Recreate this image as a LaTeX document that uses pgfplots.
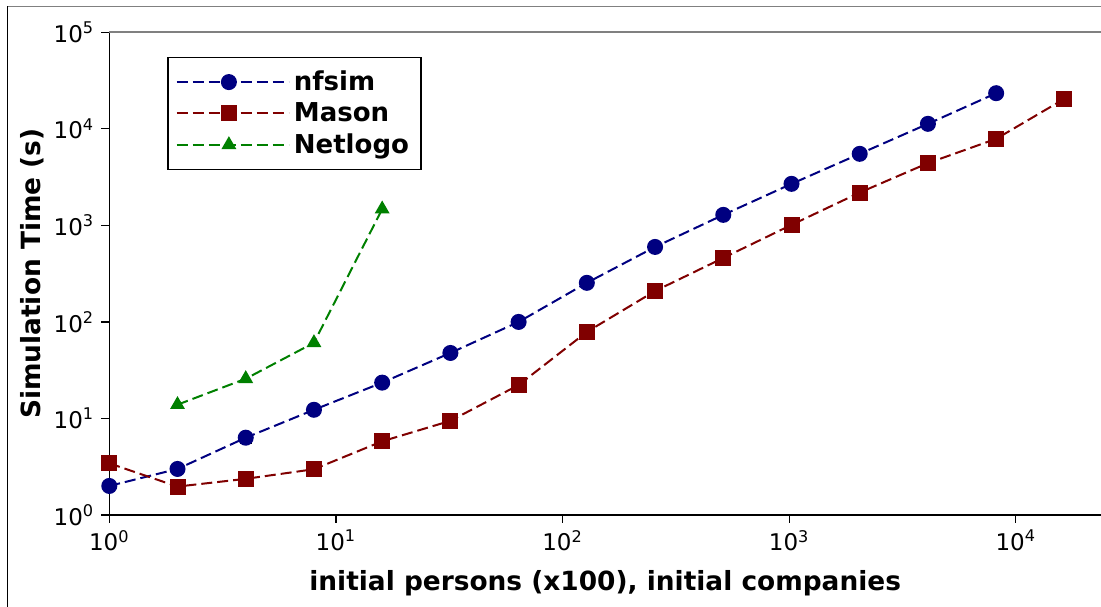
\documentclass[border=0pt]{standalone}
\usepackage{fontspec}
\setmainfont{DejaVu Sans}
\usepackage{pgfplots}
\pgfplotsset{compat=1.18}
\definecolor{cnf}{RGB}{0,0,128}
\definecolor{cma}{RGB}{128,0,0}
\definecolor{cnl}{RGB}{0,128,0}
\definecolor{spinegray}{RGB}{128,128,128}
\begin{document}
\begin{tikzpicture}
\useasboundingbox (0,0) rectangle (550.5pt,303pt);
\draw[spinegray, line width=0.8pt] (3.65pt,299.65pt) -- (552pt,299.65pt);
\draw[black, line width=0.8pt] (3.65pt,-2pt) -- (3.65pt,300.05pt);
\begin{axis}[
 at={(54.65pt,45.5pt)}, anchor=south west,
 scale only axis, width=495.85pt, height=241.35pt,
 xmode=log, ymode=log, log basis x=10, log basis y=10,
 xmin=1, xmax=23770, ymin=1, ymax=100000,
 axis x line*=bottom, axis y line*=left,
 axis line style={line width=0.75pt, -},
 xtick={1,10,100,1000,10000},
 xticklabels={10\textsuperscript{0},10\textsuperscript{1},10\textsuperscript{2},10\textsuperscript{3},10\textsuperscript{4}},
 ytick={1,10,100,1000,10000,100000},
 yticklabels={10\textsuperscript{0},10\textsuperscript{1},10\textsuperscript{2},10\textsuperscript{3},10\textsuperscript{4},10\textsuperscript{5}},
 xminorticks=false, yminorticks=false,
 tick align=outside, major tick length=4pt,
 tick style={black, line width=0.6pt},
 tick label style={font=\fontsize{11.5}{13}\selectfont},
 xlabel={initial persons (x100), initial companies},
 ylabel={Simulation Time (s)},
 label style={font=\bfseries\fontsize{13.2}{15}\selectfont},
 xlabel style={yshift=-3pt},
 ylabel style={yshift=-2pt},
 clip=false,
 legend style={at={(axis description cs:0,1)}, anchor=north west, xshift=29pt, yshift=-12.4pt,
   draw=black, line width=0.6pt, font=\bfseries\fontsize{13}{15}\selectfont,
   cells={anchor=west}, row sep=0.5pt, inner xsep=4pt, inner ysep=4.5pt},
 legend image code/.code={\path (0pt,0pt) -- (56pt,0pt);\draw[mark repeat=2,mark phase=2,#1] plot coordinates {(0pt,0pt) (26pt,0pt) (52pt,0pt)};},
 every axis plot/.append style={line width=1pt, dash pattern=on 5.5pt off 2.5pt},
]
\draw[spinegray, line width=0.8pt] (rel axis cs:0,1) -- (rel axis cs:1,1);
\addplot[cnf, mark=*, mark size=3.5pt, mark options={solid, fill=cnf, draw=cnf},
  error bars/.cd, y dir=both, y explicit, error bar style={black, solid, line width=0.8pt}, error mark options={black, solid, rotate=90, mark size=3pt}]
 coordinates {(1,2.0) (2,3.0) (4,6.32) +- (0,0.75) (8,12.3) (16,23.5) (32,47.7) (64,100) (128,254) (256,598) (512,1285) (1024,2692) (2048,5510) (4096,11270) (8192,23400)};
\addlegendentry{nfsim}
\addplot[cma, mark=square*, mark size=3.5pt, mark options={solid, fill=cma, draw=cma}]
 coordinates {(1,3.43) (2,1.97) (4,2.37) (8,2.98) (16,5.8) (32,9.45) (64,22.2) (128,78.8) (256,209) (512,460) (1024,1012) (2048,2188) (4096,4413) (8192,7880) (16384,20470)};
\addlegendentry{Mason}
\addplot[cnl, mark=triangle*, mark size=3.3pt, mark options={solid, fill=cnl, draw=cnl}]
 coordinates {(2,13.9) (4,25.8) (8,60.8) (16,1475)};
\addlegendentry{Netlogo}
\end{axis}
\end{tikzpicture}
\end{document}
